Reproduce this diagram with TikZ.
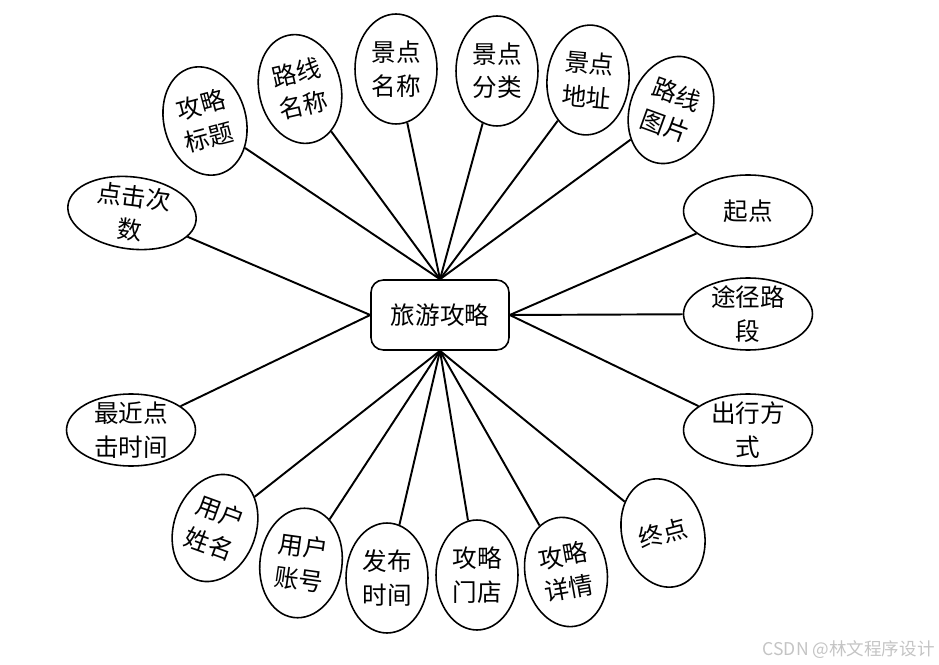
\documentclass[tikz,border=0pt]{standalone}
\usepackage{fontspec}
\setmainfont{Noto Sans CJK SC}
\usepackage{xcolor}
\usetikzlibrary{positioning, shapes.geometric}
\definecolor{markgray}{HTML}{C4C4C4}

\begin{document}
\begin{tikzpicture}[
      x=0.02cm, y=-0.02cm,
      every node/.style={font=\fontsize{14}{19}\selectfont},
      entbox/.style={rectangle, rounded corners=7pt, draw, line width=0.9pt,
        minimum width=2.76cm, minimum height=1.4cm},
      attr/.style={ellipse, draw, line width=0.9pt, inner sep=0pt, align=center,
        minimum width=1.64cm, minimum height=2.2cm},
      attrw/.style={attr, minimum width=2.58cm, minimum height=1.44cm},
      txt/.style={align=center, inner sep=0pt},
      link/.style={line width=1.1pt}
    ]
    \useasboundingbox (0,0) rectangle (939,665);
    % Entity
    \node[entbox] (gl) at (440,315) {旅游攻略};
    % Top attributes
    \node[attr, rotate=15] (gltt) at (205,121) {攻略\\标题};
    \node[attr, rotate=13] (lxmc) at (300,89) {路线\\名称};
    \node[attr] (jdmc) at (396,69) {景点\\名称};
    \node[attr] (jdfl) at (497,71) {景点\\分类};
    \node[attr, rotate=-5] (jddz) at (588,80) {景点\\地址};
    \node[attr, rotate=-20] (lxtp) at (671,110) {路线\\图片};
    \draw[link] (gltt) -- (gl.north);
    \draw[link] (lxmc) -- (gl.north);
    \draw[link] (jdmc) -- (gl.north);
    \draw[link] (jdfl) -- (gl.north);
    \draw[link] (jddz) -- (gl.north);
    \draw[link] (lxtp) -- (gl.north);
    % Right attributes
    \node[attrw] (qd) at (748,211) {起点};
    \node[attrw, label={[txt]center:途径路\\段}] (tjld) at (748,314) {};
    \node[attrw, label={[txt]center:出行方\\式}] (cxfs) at (748,430) {};
    \draw[link] (qd) -- (gl.east);
    \draw[link] (tjld) -- (gl.east);
    \draw[link] (cxfs) -- (gl.east);
    % Left attributes
    \node[attrw, rotate=-7, label={[txt, rotate=-7]center:点击次\\数}] (djcs) at (132,213) {};
    \node[attrw, label={[txt]center:最近点\\击时间}] (zjdj) at (131,430) {};
    \draw[link] (djcs) -- (gl.west);
    \draw[link] (zjdj) -- (gl.west);
    % Bottom attributes
    \node[attr, rotate=-20] (yhxm) at (215,528) {用户\\姓名};
    \node[attr, rotate=-8] (yhzh) at (301,563) {用户\\账号};
    \node[attr] (fbsj) at (387,578) {发布\\时间};
    \node[attr] (glmd) at (477,575) {攻略\\门店};
    \node[attr, rotate=10] (glxq) at (566,572) {攻略\\详情};
    \node[attr, rotate=15] (zd) at (663,533) {终点};
    \draw[link] (yhxm) -- (gl.south);
    \draw[link] (yhzh) -- (gl.south);
    \draw[link] (fbsj) -- (gl.south);
    \draw[link] (glmd) -- (gl.south);
    \draw[link] (glxq) -- (gl.south);
    \draw[link] (zd) -- (gl.south);
    % Watermark
    \node[font=\fontsize{10}{12}\selectfont, text=markgray, inner sep=0pt, anchor=east] (mark) at (935,650) {CSDN @林文程序设计};
\end{tikzpicture}
\end{document}
